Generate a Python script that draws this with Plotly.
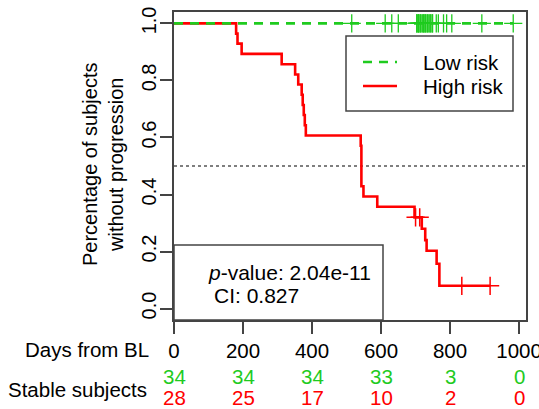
import plotly.graph_objects as go

# ---------------- data ----------------
# Low risk group: no events, all subjects censored at y = 1.0 (tied times repeated)
lr_censor_days = [515, 612, 631, 650,
                  704, 704, 704, 709, 709, 709, 714, 714, 719, 719,
                  724, 724, 724, 729, 729, 734, 734, 739, 739, 744, 744, 749, 749,
                  760, 766, 781, 790, 805, 892, 983]
lr_surv_level = 1.0

# High risk group: Kaplan-Meier step curve (time of step, survival after step)
hr_days = [0, 180, 184, 196, 312, 351, 360, 370, 373, 376, 379, 382,
           541, 543, 549, 589, 697, 718, 728, 732, 761, 769, 916]
hr_surv = [1.0, 0.964, 0.929, 0.893, 0.857, 0.821, 0.786, 0.750, 0.714, 0.679,
           0.643, 0.607, 0.571, 0.429, 0.393, 0.357, 0.320, 0.280, 0.240,
           0.203, 0.157, 0.080, 0.080]
hr_censor_days = [700, 712, 834, 916]
hr_censor_surv = [0.320, 0.320, 0.080, 0.080]

x_ticks = [0, 200, 400, 600, 800, 1000]
y_ticks = [0.0, 0.2, 0.4, 0.6, 0.8, 1.0]
y_tick_text = ["0.0", "0.2", "0.4", "0.6", "0.8", "1.0"]
low_at_risk = [34, 34, 34, 33, 3, 0]
high_at_risk = [28, 25, 17, 10, 2, 0]

p_value_text = "<i>p</i>-value: 2.04e-11"
ci_text = "CI: 0.827"

# ---------------- styling ----------------
GREEN = "#1FCB1F"
RED = "#FF0000"
AXIS = "#444444"
FONT = "Liberation Sans, Arial, sans-serif"
FS = 20.5

W, H = 539, 409
L, R, T, B = 174, 13, 12, 89
PW, PH = W - L - R, H - T - B


def px(x):
    return (x - L) / PW


def py(y):
    return (H - B - y) / PH


fig = go.Figure()

fig.add_trace(go.Scatter(
    x=hr_days, y=hr_surv, mode="lines",
    line=dict(shape="hv", color=RED, width=2.6),
    showlegend=False, hoverinfo="skip"))
fig.add_trace(go.Scatter(
    x=hr_censor_days, y=hr_censor_surv, mode="markers",
    marker=dict(symbol="cross-thin", size=13, line=dict(color=RED, width=1.5)),
    showlegend=False, hoverinfo="skip"))

fig.add_trace(go.Scatter(
    x=[0, max(lr_censor_days)], y=[lr_surv_level, lr_surv_level], mode="lines",
    line=dict(color=GREEN, width=2.6, dash="9px,7px"),
    showlegend=False, hoverinfo="skip"))
fig.add_trace(go.Scatter(
    x=lr_censor_days, y=[lr_surv_level] * len(lr_censor_days), mode="markers",
    marker=dict(symbol="cross-thin", size=13, line=dict(color=GREEN, width=1.3)),
    showlegend=False, hoverinfo="skip"))

shapes = []
# median reference line
shapes.append(dict(type="line", xref="paper", yref="y", x0=0, x1=1, y0=0.5, y1=0.5,
                   line=dict(color="#555555", width=1.6, dash="dot"), layer="below"))
# legend box
shapes.append(dict(type="rect", xref="paper", yref="paper",
                   x0=px(346), x1=px(513), y0=py(111), y1=py(36),
                   line=dict(color=AXIS, width=1.5), fillcolor="white", layer="above"))
shapes.append(dict(type="line", xref="paper", yref="paper",
                   x0=px(363), x1=px(397), y0=py(62), y1=py(62),
                   line=dict(color=GREEN, width=2.6, dash="9px,7px"), layer="above"))
shapes.append(dict(type="line", xref="paper", yref="paper",
                   x0=px(363), x1=px(397), y0=py(86), y1=py(86),
                   line=dict(color=RED, width=2.6), layer="above"))
# p-value box
shapes.append(dict(type="rect", xref="paper", yref="paper",
                   x0=0, x1=px(383), y0=0, y1=py(245),
                   line=dict(color=AXIS, width=1.5), fillcolor="white", layer="above"))

ann = []
ann.append(dict(text="Low risk", xref="paper", yref="paper", x=px(421), y=py(62),
                xanchor="left", yanchor="middle", showarrow=False,
                font=dict(family=FONT, size=FS, color="black")))
ann.append(dict(text="High risk", xref="paper", yref="paper", x=px(421), y=py(86),
                xanchor="left", yanchor="middle", showarrow=False,
                font=dict(family=FONT, size=FS, color="black")))
ann.append(dict(text=p_value_text, xref="paper", yref="paper", x=px(206), y=py(272),
                xanchor="left", yanchor="middle", showarrow=False,
                font=dict(family=FONT, size=21, color="black")))
ann.append(dict(text=ci_text, xref="paper", yref="paper", x=px(212), y=py(295),
                xanchor="left", yanchor="middle", showarrow=False,
                font=dict(family=FONT, size=21, color="black")))
# y-axis title (two lines, rotated)
ann.append(dict(text="Percentage of subjects<br>without progression", xref="paper",
                yref="paper", x=px(103), y=py(165), textangle=-90,
                xanchor="center", yanchor="middle", showarrow=False,
                font=dict(family=FONT, size=20, color="black")))
# bottom labels
ann.append(dict(text="Days from BL", xref="paper", yref="paper", x=px(151), y=py(349),
                xanchor="right", yanchor="middle", showarrow=False,
                font=dict(family=FONT, size=FS, color="black")))
ann.append(dict(text="Stable subjects", xref="paper", yref="paper", x=px(149), y=py(389),
                xanchor="right", yanchor="middle", showarrow=False,
                font=dict(family=FONT, size=FS, color="black")))
for xv, lo, hi in zip(x_ticks, low_at_risk, high_at_risk):
    ann.append(dict(text=str(lo), xref="x", yref="paper", x=xv, y=py(376),
                    xanchor="center", yanchor="middle", showarrow=False,
                    font=dict(family=FONT, size=FS, color=GREEN)))
    ann.append(dict(text=str(hi), xref="x", yref="paper", x=xv, y=py(397),
                    xanchor="center", yanchor="middle", showarrow=False,
                    font=dict(family=FONT, size=FS, color=RED)))

fig.update_layout(
    width=W, height=H,
    margin=dict(l=L, r=R, t=T, b=B, autoexpand=False),
    paper_bgcolor="white", plot_bgcolor="white",
    font=dict(family=FONT, size=FS, color="black"),
    shapes=shapes, annotations=ann, showlegend=False,
    xaxis=dict(range=[0, 1020], tickvals=x_ticks, ticks="outside", ticklen=12,
               tickwidth=1.5, tickcolor=AXIS, showline=True, linecolor=AXIS,
               linewidth=1.5, mirror=True, showgrid=False, zeroline=False,
               ticklabeloverflow="allow",
               tickfont=dict(family=FONT, size=FS, color="black"), automargin=False),
    yaxis=dict(range=[-0.04, 1.04], tickvals=y_ticks, ticktext=y_tick_text,
               tickangle=-90, ticks="outside", ticklen=12, tickwidth=1.5,
               tickcolor=AXIS, showline=True, linecolor=AXIS, linewidth=1.5,
               mirror=True, showgrid=False, zeroline=False, ticklabelstandoff=-4,
               tickfont=dict(family=FONT, size=20, color="black"), automargin=False),
)

fig.write_html("out.html", config={"displayModeBar": False},
               post_script="document.body.style.margin='0';")
